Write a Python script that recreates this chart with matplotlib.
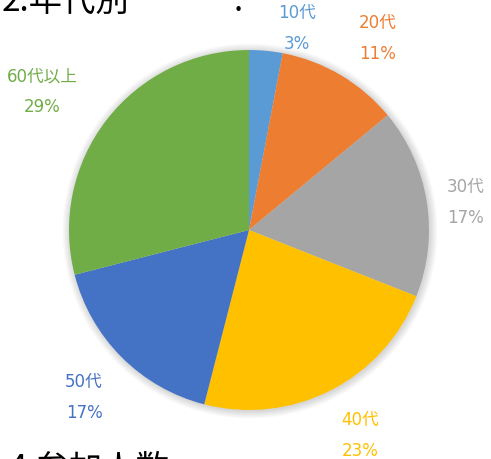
import matplotlib.pyplot as plt
from matplotlib.patches import Circle

plt.rcParams['font.family'] = ['DejaVu Sans', 'Noto Sans CJK JP']

# data
labels = ['10代', '20代', '30代', '40代', '50代', '60代以上']
values = [3, 11, 17, 23, 17, 29]
colors = ['#5B9BD5', '#ED7D31', '#A5A5A5', '#FFC000', '#4472C4', '#70AD47']

W, H = 491, 460
fig = plt.figure(figsize=(W / 100, H / 100), dpi=100)
ax = fig.add_axes([0, 0, 1, 1])

cx, cy, r = 249, H - 231, 180

# soft shadow around the pie
for i in range(8):
    ax.add_patch(Circle((cx + 1, cy - 1), r + 0.5 + i * 1.0, color='black',
                        alpha=0.02, lw=0, zorder=0))

ax.pie(values, colors=colors, startangle=90, counterclock=False,
       center=(cx, cy), radius=r, frame=True,
       wedgeprops=dict(linewidth=0))
ax.set_xlim(0, W)
ax.set_ylim(0, H)
ax.set_aspect('equal')
ax.axis('off')

# label positions (pixel coords, from top)
label_pos = [(297, 13), (378, 23), (466, 187), (360, 420), (84, 382), (42, 76)]
total = sum(values)
for lab, v, c, (x, y) in zip(labels, values, colors, label_pos):
    ax.text(x, H - y, lab, color=c, fontsize=12, ha='center', va='center')
    ax.text(x, H - y - 31, f'{round(100 * v / total)}%', color=c,
            fontsize=12, ha='center', va='center')

# cut-off document text
title_font = ['Noto Sans CJK JP', 'DejaVu Sans']
ax.text(2, H - 11, '2.年代別', fontsize=24, color='black', ha='left',
        va='baseline', family=title_font)
ax.text(234, H - 11, ':', fontsize=24, color='black', ha='left',
        va='baseline', family=title_font)
ax.text(8, H - 478, '4.参加人数', fontsize=24, color='black', ha='left',
        va='baseline', family=title_font)

fig.savefig('out.png', dpi=100)
